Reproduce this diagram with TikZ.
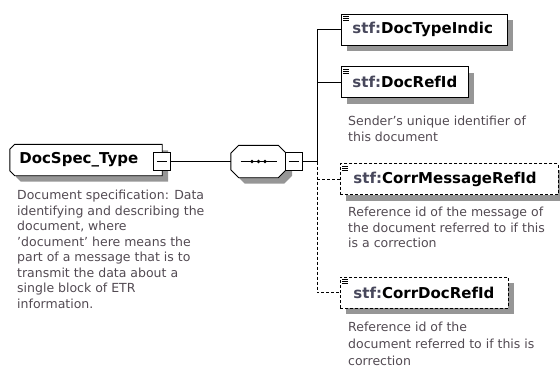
\documentclass[tikz,border=0pt]{standalone}
\usepackage{fontspec}
\setmainfont{DejaVu Sans}

\definecolor{annot}{RGB}{82,74,82}
\definecolor{nsgray}{RGB}{72,72,92}
\definecolor{shadowgray}{RGB}{150,150,150}

\tikzset{
  boxshadow/.style={preaction={fill=shadowgray, draw=none, transform canvas={xshift=6pt,yshift=-6pt}}},
  outline/.style={draw, line width=0.9pt, fill=white, boxshadow},
  typebox/.style={rectangle, minimum width=152pt, minimum height=31pt, inner sep=0pt},
  seqbox/.style={rectangle, minimum width=55pt, minimum height=32pt, inner sep=0pt},
  minusbox/.style={draw, line width=1.2pt, fill=white, minimum width=17pt, minimum height=18pt, inner sep=0pt},
  title/.style={font=\fontsize{15}{18}\selectfont\bfseries},
  elem/.style={title, draw, line width=0.9pt, fill=white, anchor=west, minimum height=31pt, inner xsep=11pt,
    inner ysep=0pt, align=left, boxshadow},
  optelem/.style={elem, inner xsep=13pt, dash pattern=on 3pt off 2pt},
  annotation/.style={anchor=north west, inner sep=0pt, align=left, text=annot,
    font=\fontsize{12.5}{15.5}\selectfont},
  conn/.style={line width=0.9pt},
  optconn/.style={conn, dash pattern=on 3pt off 2pt},
}

\begin{document}
\begin{tikzpicture}[x=1pt,y=-1pt]
\useasboundingbox (0,0) rectangle (560,367);
% complex type
\node[typebox] (spec) at (86,160) {};
\draw[outline] ([xshift=5pt]spec.north west) -- (spec.north east) -- (spec.south east)
  -- ([xshift=5pt]spec.south west) -- ([yshift=5pt]spec.south west)
  -- ([yshift=-5pt]spec.north west) -- cycle;
\node[title, anchor=west] (spectitle) at ([xshift=6pt]spec.west) {DocSpec\_Type};
\node[minusbox] (specminus) at (162,161.5) {};
\draw ([xshift=4pt]specminus.west) -- ([xshift=-4pt]specminus.east);
\node[annotation] (specdoc) at (17,190) {Document specification: Data\\identifying and describing the\\document, where\\'document' here means the\\part of a message that is to\\transmit the data about a\\single block of ETR\\information.};
% sequence
\node[seqbox] (seq) at (258.5,161.5) {};
\draw[outline] ([xshift=8pt]seq.north west) -- ([xshift=-8pt]seq.north east)
  -- ([yshift=-8pt]seq.north east) -- ([yshift=8pt]seq.south east)
  -- ([xshift=-8pt]seq.south east) -- ([xshift=8pt]seq.south west)
  -- ([yshift=8pt]seq.south west) -- ([yshift=-8pt]seq.north west) -- cycle;
\draw[line width=1pt] ([xshift=-18pt]seq.center) -- ([xshift=18pt]seq.center);
\foreach \dx in {-6.5,0,6.5}
  \fill ([xshift=\dx pt]seq.center) circle (1.9pt);
\node[minusbox] (seqminus) at (294,161.5) {};
\draw ([xshift=4pt]seqminus.west) -- ([xshift=-4pt]seqminus.east);
\draw[conn] (specminus.east) -- (seq.west);
\coordinate (fork) at (317,161.5);
\draw[conn] (seqminus.east) -- (fork);
% elements
\node[elem, text width=144pt] (typeind) at (341,29.5) {\textcolor{nsgray}{stf:}DocTypeIndic};
\node[elem, text width=105pt] (docref) at (341,82) {\textcolor{nsgray}{stf:}DocRefId};
\node[optelem, text width=192pt] (corrmsg) at (340,179) {\textcolor{nsgray}{stf:}CorrMessageRefId};
\node[optelem, text width=142pt] (corrdoc) at (340,292.5) {\textcolor{nsgray}{stf:}CorrDocRefId};
\foreach \n in {typeind,docref,corrmsg,corrdoc}
  \foreach \dy in {3,5,7}
    \draw[line width=0.7pt] ([shift={(2pt,-\dy pt)}]\n.north west) -- ++(6,0);
\node[annotation] (docrefdoc) at (348,116) {Sender's unique identifier of\\this document};
\node[annotation] (corrmsgdoc) at (348,207) {Reference id of the message of\\the document referred to if this\\is a correction};
\node[annotation, font=\fontsize{12.5}{17}\selectfont] (corrdocdoc) at (348,322) {Reference id of the\\document referred to if this is\\correction};
% connectors
\draw[conn] (fork) -- (fork |- typeind.west) -- (typeind.west);
\draw[conn] (fork |- docref.west) -- (docref.west);
\draw[optconn] (fork) -- (fork |- corrdoc.west) -- (corrdoc.west);
\draw[optconn] (fork |- corrmsg.west) -- (corrmsg.west);
\end{tikzpicture}
\end{document}
